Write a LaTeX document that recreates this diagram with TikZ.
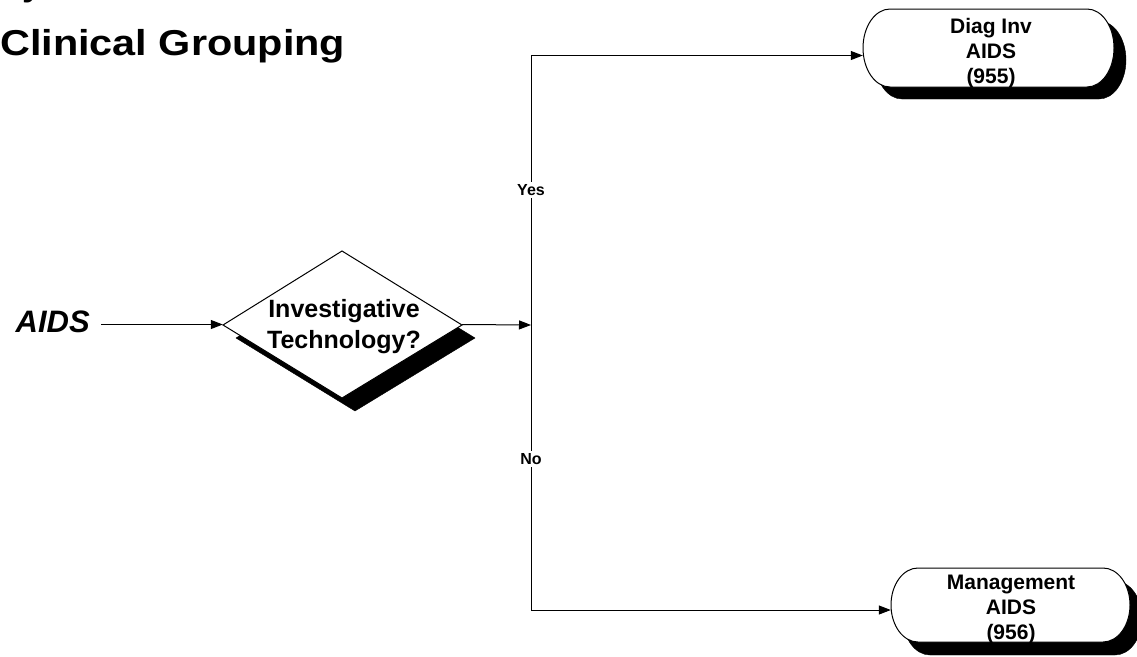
\documentclass[tikz,border=0pt]{standalone}
\usepackage{fontspec}
\usepackage{graphicx}
\setmainfont{Liberation Sans}
\usetikzlibrary{arrows.meta}
\begin{document}
\begin{tikzpicture}[x=1pt,y=1pt,
  conn/.style={line width=1pt,-{Triangle[length=12pt,width=9pt]}},
  shape line/.style={line width=1pt,draw=black,fill=white},
  shadowfill/.style={fill=black,draw=black},
  lbl/.style={fill=white,inner sep=2pt,font=\fontsize{16}{19}\selectfont\bfseries},
  termtext/.style={align=center,inner sep=0pt,font=\fontsize{21}{25}\selectfont\bfseries},
  hidden/.style={draw=none,inner sep=0pt,rectangle}]
\useasboundingbox (0,0) rectangle (1137,-656);
% title
\node[anchor=base west,inner sep=0pt] (frag) at (22,5) {\fontsize{36}{43}\selectfont\bfseries y};
\node[anchor=base west,inner sep=0pt] (title) at (0,-55) {\scalebox{1.15}[1]{\fontsize{36}{43}\selectfont\bfseries Clinical Grouping}};
% AIDS
\node[anchor=base east,inner sep=0pt] (aids) at (90,-332) {\fontsize{31}{37}\selectfont\bfseries\itshape AIDS};
% diamond
\fill[shadowfill] (236,-338) -- (355,-264) -- (475,-338) -- (355,-411) -- cycle;
\draw[shape line] (223,-325) -- (342,-251) -- (462,-325) -- (342,-398) -- cycle;
\node[hidden,minimum width=239pt,minimum height=147pt] (dia) at (342.5,-324.5) {};
\node[align=center,inner sep=0pt,font=\fontsize{25}{31}\selectfont\bfseries] (dtext) at (344,-327) {Investigative\\Technology?};
% top terminal
\fill[shadowfill] (875+27,-21) -- (1126-27,-21) arc[start angle=90,end angle=-90,x radius=27,y radius=39] -- (875+27,-99) arc[start angle=270,end angle=90,x radius=27,y radius=39] -- cycle;
\draw[shape line] (863+27,-9) -- (1114-27,-9) arc[start angle=90,end angle=-90,x radius=27,y radius=39] -- (863+27,-87) arc[start angle=270,end angle=90,x radius=27,y radius=39] -- cycle;
\node[hidden,minimum width=251pt,minimum height=78pt] (t1) at (988.5,-48) {};
\node[termtext] (t1text) at (991,-53) {Diag Inv\\AIDS\\(955)};
% bottom terminal
\fill[shadowfill] (903+27,-581) -- (1142-27,-581) arc[start angle=90,end angle=-90,x radius=27,y radius=37] -- (903+27,-655) arc[start angle=270,end angle=90,x radius=27,y radius=37] -- cycle;
\draw[shape line] (891+27,-568) -- (1130-27,-568) arc[start angle=90,end angle=-90,x radius=27,y radius=37] -- (891+27,-642) arc[start angle=270,end angle=90,x radius=27,y radius=37] -- cycle;
\node[hidden,minimum width=239pt,minimum height=74pt] (t2) at (1010.5,-605) {};
\node[termtext] (t2text) at (1011,-609) {Management\\AIDS\\(956)};
% connectors
\coordinate (j) at (531,-325);
\coordinate (ctop) at (531,-55.5);
\coordinate (cbot) at (531,-610);
\draw[conn,shorten <=11pt] (aids.east |- dia.west) -- (dia.west);
\draw[conn] (dia.east) -- (j);
\draw[conn] (j) -- (ctop) -- (t1.west |- ctop);
\draw[conn] (j) -- (cbot) -- (t2.west |- cbot);
\node[lbl] (yes) at (531,-190) {Yes};
\node[lbl] (no) at (531,-459) {No};
\end{tikzpicture}
\end{document}
